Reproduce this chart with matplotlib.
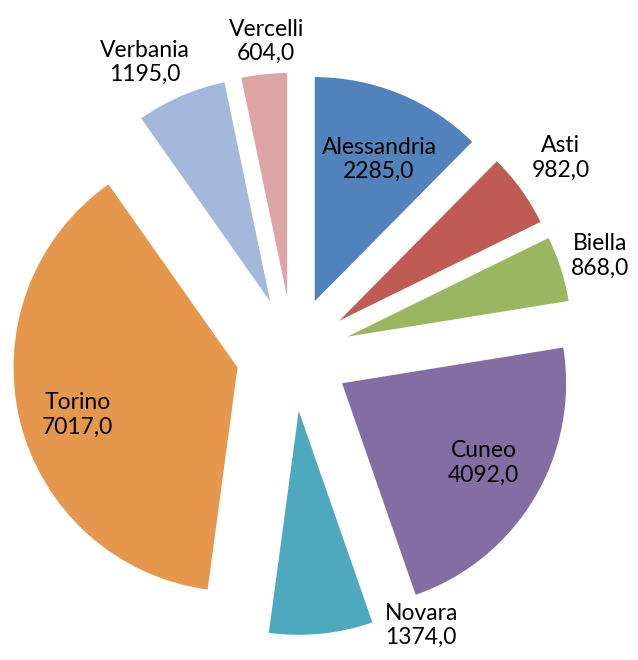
import numpy as np
import matplotlib
matplotlib.use("Agg")
import matplotlib.pyplot as plt

provinces = ["Alessandria", "Asti", "Biella", "Cuneo", "Novara", "Torino", "Verbania", "Vercelli"]
values = [2285.0, 982.0, 868.0, 4092.0, 1374.0, 7017.0, 1195.0, 604.0]
colors = ["#5182BB", "#BE5B55", "#9BB661", "#836DA3", "#4EA8BE", "#E4974D", "#A4B8DB", "#DDA5A5"]

# label placement: radial distance (in radii) and angle nudge (deg)
label_dist = [0.95, 1.48, 1.44, 0.98, 1.34, 1.0, 1.46, 1.40]
label_nudge = [-1.5, 0.5, 0.0, 1.0, 19.5, 2.0, 3.5, -1.0]

plt.rcParams["font.family"] = ["Lato", "DejaVu Sans"]

fig = plt.figure(figsize=(6.38, 6.6), dpi=100)
ax = fig.add_axes([0, 0, 1, 1])

wedges, _ = ax.pie(values, colors=colors, startangle=90, counterclock=False,
                   explode=[0.255] * len(values), radius=1.0,
                   wedgeprops=dict(linewidth=0))

for w, name, v, d, nudge in zip(wedges, provinces, values, label_dist, label_nudge):
    ang = np.deg2rad((w.theta1 + w.theta2) / 2 + nudge)
    txt = f"{name}\n{v:.1f}".replace(".", ",")
    ax.text(d * np.cos(ang), d * np.sin(ang), txt, ha="center", va="center",
            fontsize=16.5, color="black", linespacing=1.2)

ax.set_xlim(-1.308, 1.540)
ax.set_ylim(-1.366, 1.580)
ax.set_aspect("equal")
ax.axis("off")

fig.savefig("out.png", dpi=100)
